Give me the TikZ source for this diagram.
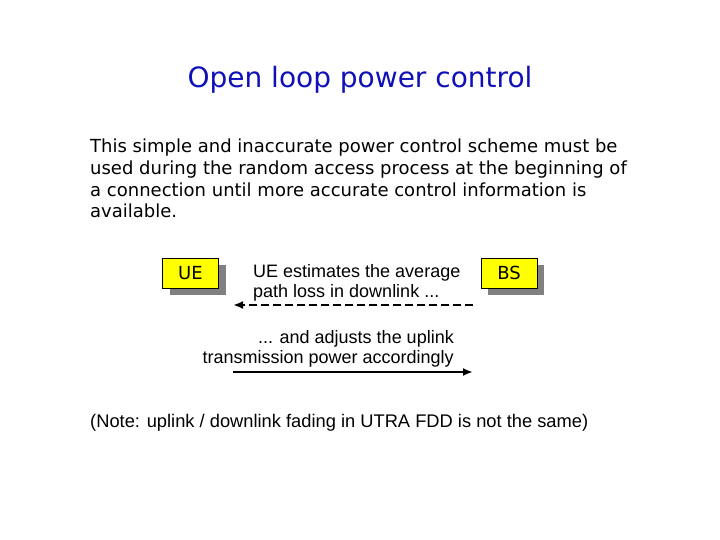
\documentclass[tikz,border=0pt]{standalone}
\usepackage{fontspec}
\setmainfont{DejaVu Sans}
\newfontfamily\arialfont{Liberation Sans}
\usetikzlibrary{arrows,arrows.meta,shadows}
\definecolor{titleblue}{RGB}{16,16,184}
\definecolor{boxyellow}{RGB}{255,255,0}
\definecolor{shadowgray}{RGB}{128,128,128}
\tikzset{
  entity/.style={draw=black, fill=boxyellow, minimum width=56pt, minimum height=30pt,
    inner sep=0pt, font=\fontsize{18}{20}\selectfont,
    drop shadow={shadow xshift=7pt, shadow yshift=-7pt, fill=shadowgray, opacity=1}},
  msg/.style={font=\arialfont\fontsize{18}{20}\selectfont, inner sep=0pt},
  link/.style={line width=2pt, -{Latex[length=10pt,width=8pt]}}
}
\begin{document}
\begin{tikzpicture}[x=1pt,y=-1pt]
                \useasboundingbox (0,0) rectangle (720,540);
                \node[text=titleblue, font=\fontsize{28}{32}\selectfont] (title) at (360,80) {Open loop power control};
                % base anchor of a multi-line node sits on its last line
                \node[anchor=base west, align=left, inner sep=0pt, font=\fontsize{18}{21.7}\selectfont] (intro) at (90,218)
                  {This simple and inaccurate power control scheme must be\\
                   used during the random access process at the beginning of\\
                   a connection until more accurate control information is\\
                   available.};
                \node[entity] (ue) at (190.5,273) {UE};
                \node[entity] (bs) at (509,273) {BS};
                \coordinate (dlstart) at (473,305);
                \coordinate (dlend) at (233,305);
                \coordinate (ulstart) at (233,372);
                \coordinate (ulend) at (473,372);
                \node[msg, anchor=base west, align=left] (dltext) at (253,297)
                  {UE estimates the average\\ path loss in downlink ...};
                \draw[link, dash pattern=on 8pt off 4pt] (dlstart) -- (dlend);
                \node[msg, anchor=base east, align=right] (ultext) at (454,363)
                  {... and adjusts the uplink\\ transmission power accordingly};
                \draw[link] (ulstart) -- (ulend);
                \node[font=\arialfont\fontsize{18.3}{20}\selectfont, anchor=base west, inner sep=0pt] (note) at (90,427)
                  {(Note: uplink / downlink fading in UTRA FDD is not the same)};
\end{tikzpicture}
\end{document}
